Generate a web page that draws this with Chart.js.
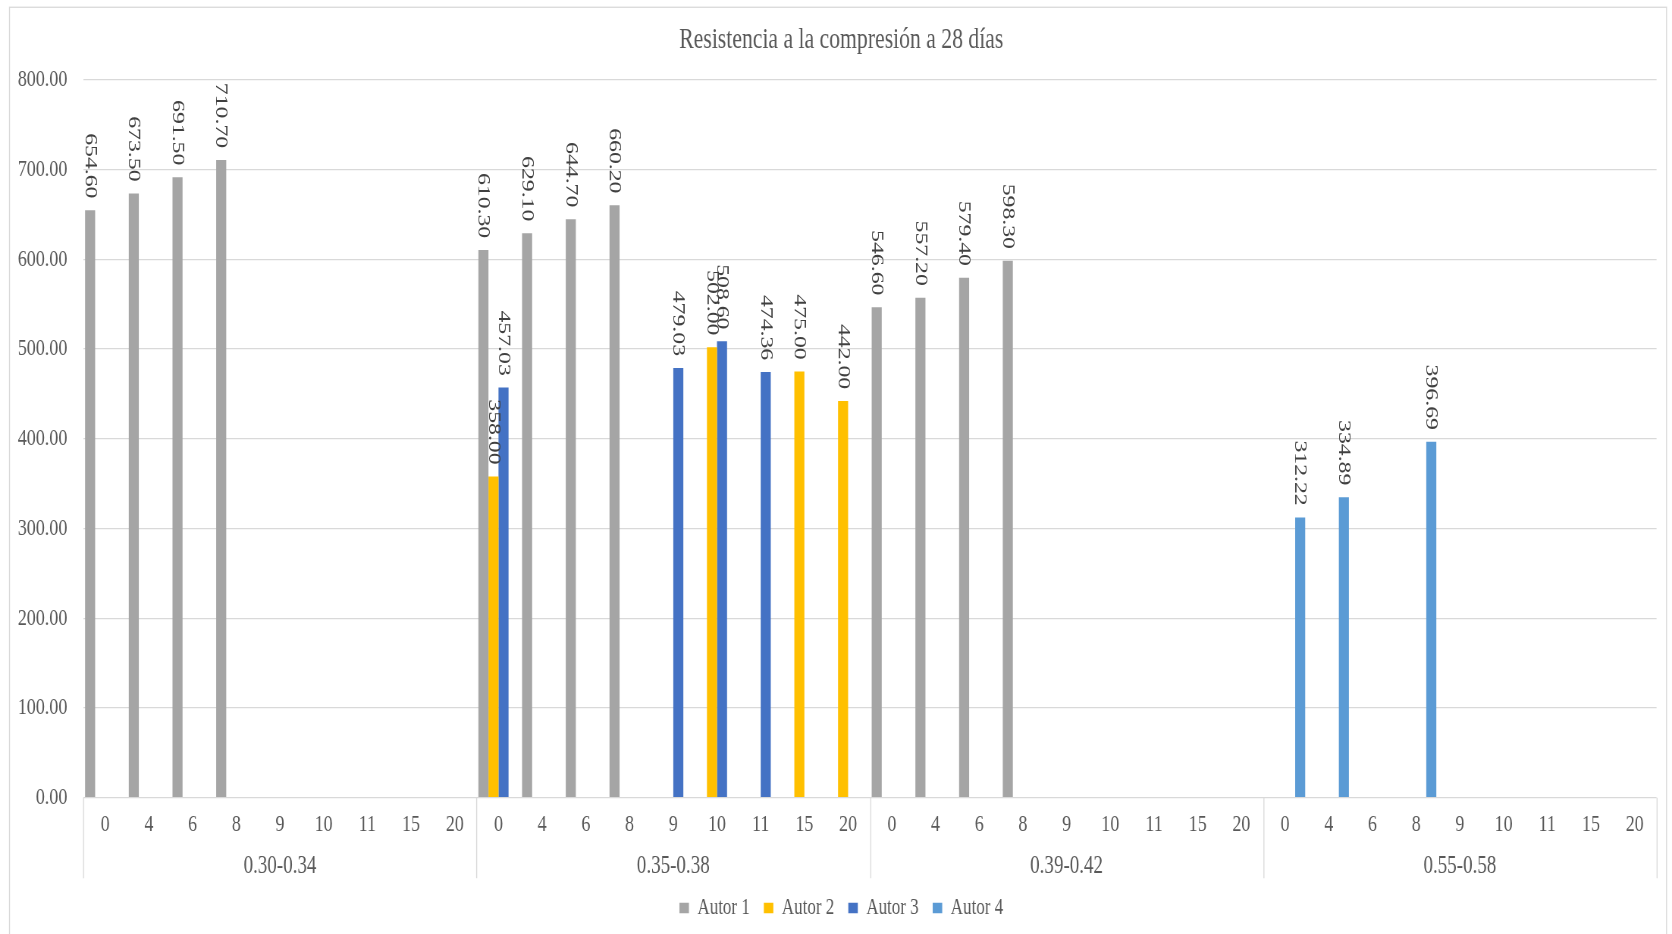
<!DOCTYPE html>
<html lang="es">
<head>
<meta charset="utf-8">
<title>Resistencia a la compresión a 28 días</title>
<script src="https://cdn.jsdelivr.net/npm/chart.js@4.4.1/dist/chart.umd.min.js"></script>
<style>
  html, body { margin: 0; padding: 0; background: #fff; }
  #marco { position: relative; width: 1672px; height: 934px; }
  /* el gráfico se dibuja en 1672x708 y se estira en vertical hasta 934 */
  #grafico { position: absolute; left: 0; top: 0; transform: scaleY(1.319209); transform-origin: 0 0; }
</style>
</head>
<body>
<div id="marco">
  <canvas id="grafico" width="1672" height="708"></canvas>
</div>
<script>
// Relación a/c (grupos) y porcentajes de cada grupo
const relaciones = ['0.30-0.34', '0.35-0.38', '0.39-0.42', '0.55-0.58'];
const porcentajes = ['0', '4', '6', '8', '9', '10', '11', '15', '20'];

// Resistencia (kg/cm2) por autor, 9 valores por grupo
const autor1 = [
  654.60, 673.50, 691.50, 710.70, null, null, null, null, null,
  610.30, 629.10, 644.70, 660.20, null, null, null, null, null,
  546.60, 557.20, 579.40, 598.30, null, null, null, null, null,
  null, null, null, null, null, null, null, null, null
];
const autor2 = [
  null, null, null, null, null, null, null, null, null,
  358.00, null, null, null, null, 502.00, null, 475.00, 442.00,
  null, null, null, null, null, null, null, null, null,
  null, null, null, null, null, null, null, null, null
];
const autor3 = [
  null, null, null, null, null, null, null, null, null,
  457.03, null, null, null, 479.03, 508.60, 474.36, null, null,
  null, null, null, null, null, null, null, null, null,
  null, null, null, null, null, null, null, null, null
];
const autor4 = [
  null, null, null, null, null, null, null, null, null,
  null, null, null, null, null, null, null, null, null,
  null, null, null, null, null, null, null, null, null,
  312.22, 334.89, null, 396.69, null, null, null, null, null
];

const etiquetas = [];
relaciones.forEach(() => porcentajes.forEach(p => etiquetas.push(p)));

const SERIF = '"Liberation Serif", "Times New Roman", serif';
const ESTIRADO = 934 / 708;

Chart.defaults.font.family = SERIF;
Chart.defaults.color = '#595959';

// marco y fondo del gráfico
const fondo = {
  id: 'fondo',
  beforeDraw(chart) {
    const {ctx, width, height} = chart;
    ctx.save();
    ctx.fillStyle = '#ffffff';
    ctx.fillRect(0, 0, width, height);
    ctx.strokeStyle = '#D9D9D9';
    ctx.lineWidth = 1;
    ctx.strokeRect(9.5, 5.5, 1656.5, height + 10);
    ctx.restore();
  }
};

// valores encima de cada barra, girados 90°
const valores = {
  id: 'valores',
  afterDatasetsDraw(chart) {
    const {ctx} = chart;
    ctx.save();
    ctx.font = '18px ' + SERIF;
    ctx.fillStyle = '#404040';
    ctx.textAlign = 'right';
    ctx.textBaseline = 'middle';
    chart.data.datasets.forEach((ds, i) => {
      chart.getDatasetMeta(i).data.forEach((barra, j) => {
        const v = ds.data[j];
        if (v === null) return;
        ctx.save();
        ctx.translate(barra.x, barra.y - 9);
        ctx.rotate(Math.PI / 2);
        ctx.fillText(v.toFixed(2), 0, 0);
        ctx.restore();
      });
    });
    ctx.restore();
  }
};

// segundo nivel del eje X: separadores y nombre de cada grupo
const ejeAgrupado = {
  id: 'ejeAgrupado',
  afterDraw(chart) {
    const {ctx, chartArea} = chart;
    const x = chart.scales.x;
    const n = porcentajes.length;
    const bordes = [chartArea.left];
    for (let g = 1; g < relaciones.length; g++) {
      bordes.push((x.getPixelForValue(g * n - 1) + x.getPixelForValue(g * n)) / 2);
    }
    bordes.push(chartArea.right);

    ctx.save();
    ctx.strokeStyle = '#D9D9D9';
    ctx.lineWidth = 1;
    bordes.forEach(b => {
      const px = Math.round(b) + 0.5;
      ctx.beginPath();
      ctx.moveTo(px, chartArea.bottom);
      ctx.lineTo(px, chartArea.bottom + 61);
      ctx.stroke();
    });
    ctx.font = '19px ' + SERIF;
    ctx.fillStyle = '#595959';
    ctx.textAlign = 'center';
    ctx.textBaseline = 'middle';
    relaciones.forEach((r, g) => {
      ctx.fillText(r, (bordes[g] + bordes[g + 1]) / 2, chartArea.bottom + 52);
    });
    ctx.restore();
  }
};

new Chart(document.getElementById('grafico'), {
  type: 'bar',
  data: {
    labels: etiquetas,
    datasets: [
      { label: 'Autor 1', data: autor1, backgroundColor: '#A5A5A5' },
      { label: 'Autor 2', data: autor2, backgroundColor: '#FFC000' },
      { label: 'Autor 3', data: autor3, backgroundColor: '#4472C4' },
      { label: 'Autor 4', data: autor4, backgroundColor: '#5B9BD5' }
    ]
  },
  options: {
    responsive: false,
    devicePixelRatio: ESTIRADO,
    animation: false,
    categoryPercentage: 0.92,
    barPercentage: 1.0,
    layout: { padding: { top: 0, left: 10, right: 0, bottom: 1.2 } },
    scales: {
      x: {
        grid: { display: false },
        border: { display: false },
        ticks: {
          autoSkip: false,
          maxRotation: 0,
          padding: 2,
          font: { size: 18 },
          color: '#595959'
        },
        afterFit(scale) { scale.height = 61.1; }
      },
      y: {
        min: 0,
        max: 800,
        grid: { color: '#D9D9D9', lineWidth: 1, drawTicks: false },
        border: { display: false },
        ticks: {
          stepSize: 100,
          padding: 16,
          font: { size: 18 },
          color: '#595959',
          callback: v => v.toFixed(2)
        },
        afterFit(scale) { scale.width = 73.3; }
      },
      // margen derecho vacío
      yDer: {
        position: 'right',
        grid: { display: false },
        border: { display: false },
        ticks: { display: false },
        afterFit(scale) { scale.width = 16; }
      }
    },
    plugins: {
      title: {
        display: true,
        text: 'Resistencia a la compresión a 28 días',
        font: { size: 21.7, weight: 'normal' },
        color: '#595959',
        padding: { top: 17.3, bottom: 17.2 }
      },
      legend: {
        position: 'bottom',
        labels: {
          boxWidth: 9.5,
          boxHeight: 8,
          padding: 14,
          font: { size: 17 },
          color: '#595959'
        }
      },
      tooltip: { enabled: false }
    }
  },
  plugins: [fondo, valores, ejeAgrupado]
});
</script>
</body>
</html>
